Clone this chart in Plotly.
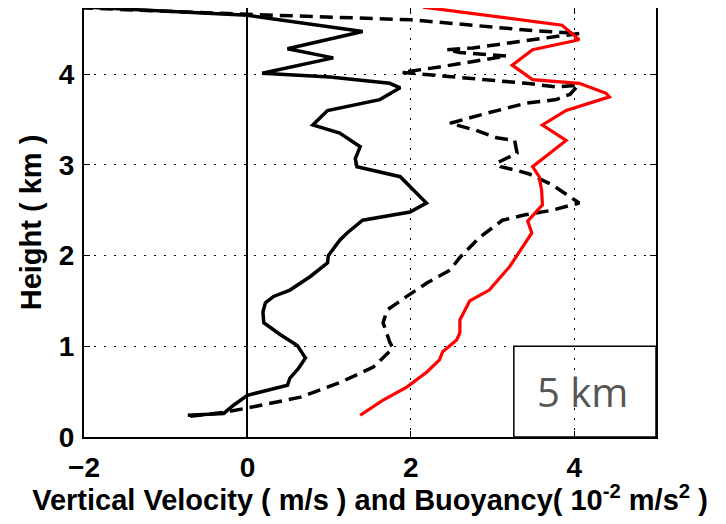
import plotly.graph_objects as go

# Vertical velocity (m/s) profile - black solid
w_height = [0.24, 0.26, 0.35, 0.46, 0.57, 0.65, 0.75, 0.87, 1.01, 1.13, 1.26, 1.38, 1.48, 1.55, 1.62,
            1.73, 1.77, 1.92, 2.0, 2.17, 2.25, 2.39, 2.48, 2.58, 2.76, 2.87, 2.98, 3.07, 3.2, 3.35,
            3.44, 3.6, 3.72, 3.85, 3.9, 3.97, 4.01, 4.18, 4.28, 4.47, 4.65, 4.74]
w_value = [-0.73, -0.29, -0.17, 0.0, 0.49, 0.52, 0.62, 0.71, 0.61, 0.4, 0.2, 0.19, 0.22, 0.32, 0.52,
           0.7, 0.77, 0.98, 0.99, 1.13, 1.22, 1.41, 1.99, 2.19, 1.99, 1.87, 1.34, 1.32, 1.38, 1.13,
           0.8, 0.98, 1.62, 1.87, 1.74, 1.01, 0.18, 1.05, 0.49, 1.41, 0.0, -2.0]

# Second profile - black dashed
d_height = [0.23, 0.27, 0.32, 0.44, 0.6, 0.77, 0.98, 1.05, 1.26, 1.4, 1.55, 1.7, 1.84, 1.98, 2.09,
            2.2, 2.39, 2.45, 2.5, 2.58, 2.78, 2.9, 2.94, 2.98, 3.02, 3.09, 3.13, 3.27, 3.3, 3.38,
            3.46, 3.57, 3.64, 3.68, 3.72, 3.78, 3.88, 3.86, 3.9, 3.94, 3.98, 4.02, 4.08, 4.15,
            4.2, 4.24, 4.27, 4.29, 4.35, 4.4, 4.45, 4.48, 4.52, 4.6, 4.66, 4.73]
d_value = [-0.7, -0.3, 0.0, 0.65, 1.13, 1.54, 1.78, 1.74, 1.66, 1.71, 1.95, 2.2, 2.48, 2.6, 2.72,
           2.84, 3.12, 3.4, 3.73, 4.06, 3.73, 3.45, 3.29, 3.1, 3.05, 3.2, 3.3, 3.27, 3.05, 2.8,
           2.48, 2.93, 3.24, 3.41, 3.78, 3.95, 4.05, 3.78, 3.41, 2.9, 2.44, 1.89, 2.35, 2.8,
           3.17, 2.6, 2.44, 2.76, 3.24, 3.66, 4.06, 3.5, 3.0, 2.0, 0.0, -2.0]

# Buoyancy profile (10^-2 m/s^2) - red solid
b_height = [0.24, 0.4, 0.55, 0.72, 0.85, 0.94, 1.07, 1.15, 1.29, 1.5, 1.62, 1.88, 2.1, 2.25, 2.38,
            2.56, 2.72, 2.87, 2.98, 3.13, 3.27, 3.44, 3.6, 3.75, 3.79, 3.9, 3.94, 4.1, 4.27, 4.38,
            4.54, 4.74]
b_value = [1.38, 1.65, 1.95, 2.2, 2.35, 2.39, 2.56, 2.6, 2.6, 2.72, 2.96, 3.21, 3.37, 3.48, 3.43,
           3.61, 3.6, 3.57, 3.49, 3.7, 3.9, 3.61, 3.9, 4.43, 4.39, 4.06, 3.49, 3.24, 3.49, 4.06,
           3.85, 2.15]

x_ticks = [-2, 0, 2, 4]
y_ticks = [0, 1, 2, 3, 4]
label_text = "5 km"

fig = go.Figure()
fig.add_trace(go.Scatter(x=d_value, y=d_height, mode="lines",
                         line=dict(color="black", width=3.5, dash="13px,7px")))
fig.add_trace(go.Scatter(x=w_value, y=w_height, mode="lines",
                         line=dict(color="black", width=3.5)))
fig.add_trace(go.Scatter(x=b_value, y=b_height, mode="lines",
                         line=dict(color="red", width=3.2)))

fig.add_shape(type="rect", xref="x", yref="y", x0=3.26, x1=5.0, y0=0, y1=1.0,
              line=dict(color="black", width=1.5), fillcolor="rgba(0,0,0,0)", layer="above")
fig.add_annotation(x=4.1, y=0.5, xref="x", yref="y", text=label_text, showarrow=False,
                   font=dict(family="Open Sans", size=40, color="#555555"))

tick_font = dict(family="Liberation Sans", size=28, color="black", weight="bold")
title_font = dict(family="Liberation Sans", size=29, color="black", weight="bold")
fig.update_layout(
    width=710, height=508,
    margin=dict(l=76, r=62, t=0, b=79, autoexpand=False),
    paper_bgcolor="white", plot_bgcolor="white",
    showlegend=False,
    xaxis=dict(range=[-2, 5], tickvals=x_ticks, ticktext=[str(v).replace("-", "\u2212") for v in x_ticks],
               showgrid=True, gridcolor="black", gridwidth=1, griddash="2px,8px",
               zeroline=True, zerolinecolor="black", zerolinewidth=1.5,
               showline=True, linecolor="black", linewidth=2, mirror="allticks",
               ticks="inside", ticklen=6, tickcolor="black", tickfont=tick_font,
               ticklabelstandoff=4, automargin=False,
               title=dict(text="Vertical Velocity ( m/s ) and Buoyancy( 10<sup>-2</sup> m/s<sup>2</sup> )",
                          font=title_font, standoff=0)),
    yaxis=dict(range=[0, 4.73], tickvals=y_ticks,
               showgrid=True, gridcolor="black", gridwidth=1, griddash="2px,8px",
               zeroline=False,
               showline=True, linecolor="black", linewidth=2, mirror="allticks",
               ticks="inside", ticklen=6, tickcolor="black", tickfont=tick_font,
               ticklabelstandoff=2, automargin=False,
               title=dict(text="Height ( km )", font=title_font, standoff=9)),
)

fig.write_html("out.html")
